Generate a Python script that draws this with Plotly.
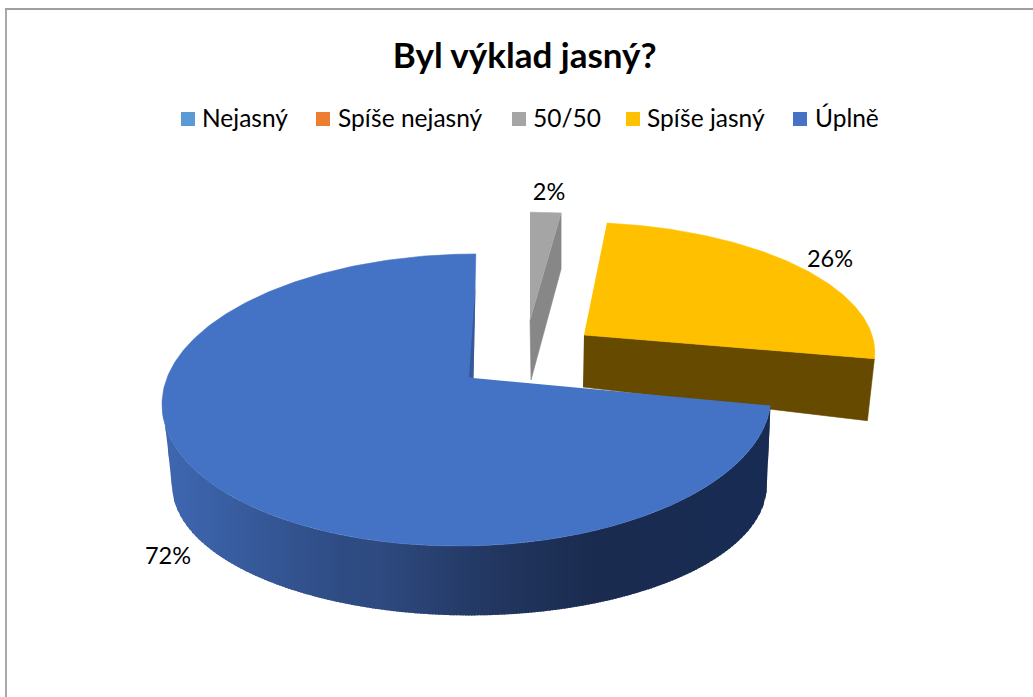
import numpy as np
import plotly.graph_objects as go

title = "Byl výklad jasný?"
categories = ["Nejasný", "Spíše nejasný", "50/50", "Spíše jasný", "Úplně"]
values = [0, 0, 2, 26, 72]
legend_colors = ["#5B9BD5", "#ED7D31", "#A5A5A5", "#FFC000", "#4472C4"]
FONT = "Lato"

# cumulative clockwise angles from the values
ends = np.cumsum(values) / sum(values) * 360.0
starts = ends - np.array(values) / sum(values) * 360.0


def arc(g, a0, a1, n=120):
    t = np.radians(np.linspace(a0, a1, n))
    u, v = np.sin(t), np.cos(t)
    w = 1 + g["k"] * v
    return g["cx"] + (g["a"] * u + g["s"] * v) / w, g["cy"] - g["b"] * v / w


fig = go.Figure()


def poly(x, y, color, lw=0.6):
    fig.add_trace(go.Scatter(x=list(x), y=list(y), mode="lines", fill="toself",
                             fillcolor=color, line=dict(color=color, width=lw),
                             showlegend=False, hoverinfo="skip"))


# 50/50 slice
i = 2
g = dict(cx=530, cy=320, a=285, b=124, k=0.15, s=0)
x, y = arc(g, starts[i], ends[i], 10)
poly([x[-1], x[-1], 531, 530], [y[-1], y[-1] + 56, 380, 320], "#878787")
poly(list(x) + [530], list(y) + [320], "#A5A5A5")

# Spíše jasný slice
i = 3
g = dict(cx=584, cy=335, a=288, b=124, k=0.10, s=-11)
x, y = arc(g, starts[i], ends[i])
poly([584, x[-1], x[-1] - 7, 583], [335, y[-1], y[-1] + 62, 387], "#664A00")
poly(list(x) + [584], list(y) + [335], "#FFC000")

# Úplně slice: wall as vertical colour bands, then the top face
i = 4
top = dict(cx=468, cy=378, a=301, b=142.7, k=0.1507, s=9)
bot = dict(cx=469.5, cy=466, a=294, b=127, k=0.15, s=0)
grad_x = [165, 340, 380, 500, 600, 780]
grad_r = [0x3F, 0x2F, 0x2E, 0x22, 0x1A, 0x18]
grad_g = [0x68, 0x4C, 0x4A, 0x36, 0x2B, 0x2C]
grad_b = [0xB2, 0x84, 0x80, 0x5F, 0x4F, 0x54]
tx, ty = arc(top, starts[i], 261.5, 400)
bx, by = arc(bot, 98.6, 261.5, 400)
bx = np.concatenate([[tx[0]], bx, [tx[-1]]])
by = np.concatenate([[ty[0]], by, [ty[-1]]])
o1, o2 = np.argsort(tx), np.argsort(bx)
cols = np.arange(tx.min(), tx.max(), 3.0)
for c0 in cols:
    xs = np.linspace(c0, min(c0 + 4.5, tx.max()), 4)
    up = np.interp(xs, tx[o1], ty[o1])
    lo = np.interp(xs, bx[o2], by[o2])
    xm = c0 + 1.5
    c = "rgb(%d,%d,%d)" % (np.interp(xm, grad_x, grad_r), np.interp(xm, grad_x, grad_g),
                           np.interp(xm, grad_x, grad_b))
    poly(list(xs) + list(xs[::-1]), list(up) + list(lo[::-1]), c, 0)
x, y = arc(top, starts[i], ends[i], 300)
poly(list(x) + [473], list(y) + [378], "#4472C4")
poly([469, 473.5, 475.5], [377, 378, 285], "#35599C", 0)

# percentage labels
label_x = [549, 830, 168]
label_y = [194, 261, 558]
shown = [f"{v}%" for v in values if v > 0]
fig.add_trace(go.Scatter(x=label_x, y=label_y, text=shown, mode="text",
                         textfont=dict(family=FONT, size=23.5, color="#000000"),
                         showlegend=False, hoverinfo="skip"))

# legend row
swatch_x = [188, 323, 519, 633, 800]
text_x = [202, 338, 533, 647, 815]
swatch_y = 119
text_y = 121
for name, color, sx, tx0 in zip(categories, legend_colors, swatch_x, text_x):
    fig.add_trace(go.Scatter(x=[sx], y=[swatch_y], mode="markers", name=name,
                             marker=dict(symbol="square", size=14, color=color),
                             showlegend=False, hoverinfo="name"))
    fig.add_trace(go.Scatter(x=[tx0], y=[text_y], mode="text", text=[name],
                             textposition="middle right",
                             textfont=dict(family=FONT, size=24.5, color="#000000"),
                             showlegend=False, hoverinfo="skip"))

fig.update_layout(
    width=1033, height=697,
    margin=dict(l=0, r=0, t=0, b=0),
    paper_bgcolor="white", plot_bgcolor="white",
    showlegend=False,
    xaxis=dict(range=[0, 1033], visible=False),
    yaxis=dict(range=[697, 0], visible=False),
    title=dict(text=f"<b>{title}</b>", x=0.508, xanchor="center", y=0.92, yanchor="middle",
               font=dict(family=FONT, size=35, color="#000000")),
    shapes=[
        dict(type="line", xref="x", yref="y", x0=6, x1=6, y0=9, y1=697,
             line=dict(color="#A9A9A9", width=2)),
        dict(type="line", xref="x", yref="y", x0=5, x1=1033, y0=9, y1=9,
             line=dict(color="#A0A0A0", width=2)),
    ],
)
fig.write_html("out.html", config=dict(displayModeBar=False),
               post_script="document.body.style.margin='0';document.body.style.overflow='hidden';")
